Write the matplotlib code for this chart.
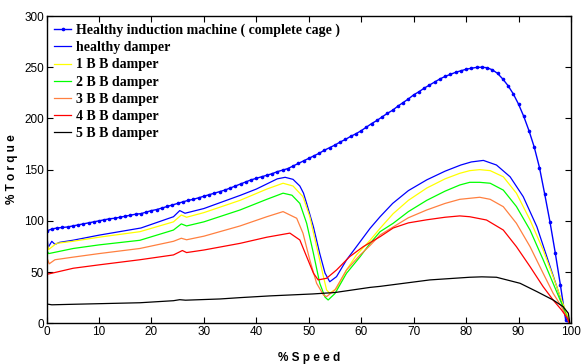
import numpy as np
import matplotlib
matplotlib.use('Agg')
import matplotlib.pyplot as plt

# healthy machine, one value per % speed (0..99)
healthy_speed = np.arange(0, 100)
healthy_torque = [90, 92, 93, 93.5, 94, 95, 96, 97, 98, 99,
                  100, 101, 102, 102.5, 103.5, 104.5, 105.5, 106.5, 107, 108.5,
                  110, 111, 112.5, 114, 115.5, 117, 118.5, 120, 121, 122.5,
                  124, 125.5, 127, 128.5, 130, 132, 134, 136, 138, 140,
                  141.5, 143, 144.5, 146, 148, 149.5, 151, 153.5, 156, 158.5,
                  161, 163.5, 166, 169, 171.5, 174, 177, 179.5, 182.5, 185,
                  188, 191.5, 195, 198, 201.5, 205, 208, 212, 215.5, 219,
                  223, 226, 229.5, 232.5, 235.5, 238.5, 241, 243, 245, 246.5,
                  248, 249, 249.8, 250, 249.5, 247.5, 244, 238.5, 232, 224,
                  214, 202, 188, 172, 152, 126, 99, 69, 37, 3]

hd_speed = [0, 0.3, 1, 1.6, 2.5, 5, 10, 18, 24.2, 25.4, 26.4, 30, 37, 40, 42.6, 44,
            45.5, 47, 48.3, 49, 49.6, 50.9, 52.1, 53.1, 54, 55.3, 57.2, 59.1, 61.7,
            63.6, 66, 69, 72.5, 76, 79, 81, 83.3, 85.8, 88.4, 90.9, 93.5, 95.4, 97.3,
            98.5, 99.2, 99.6]
hd_torque = [89, 74, 80, 77, 79, 81, 86, 93, 104, 110, 107.4, 112, 125, 131, 137.5, 141,
             142.5, 140.5, 134, 127, 117, 94, 68, 49, 40.5, 45.5, 61.8, 74.8, 92.7,
             104, 117, 129.5, 140, 148.5, 154.5, 157.5, 159, 154.5, 143, 123.6, 94.3, 65, 35.7,
             16.2, 3, 0]

bb1_speed = [0, 0.4, 1.9, 5, 10, 17.8, 24.2, 25.7, 26.7, 30, 36.9, 42, 45.1, 47,
             48.9, 50.2, 51.5, 52.8, 53.4, 54, 55.3, 57.2, 59.1, 61.7, 63.6, 66.1, 69,
             72.5, 76, 78.8, 80.7, 82.6, 84.6, 87.1, 89.6, 92.2, 94.7, 96.6, 98.2,
             99.3, 99.7]
bb1_torque = [81, 72, 78, 80, 84, 89.4, 99, 105.7, 103.5, 108, 120, 131, 136.7, 134,
              123.6, 104, 74.8, 45.5, 32.5, 29.3, 34, 52, 66.7, 81, 92.7, 107, 120,
              132, 141, 146.4, 149, 150, 149, 143, 127, 100.8, 71.6, 45.5, 22.7,
              8, 0]

bb2_speed = [0, 0.4, 5.1, 10, 17.8, 24.2, 25.7, 26.7, 30, 36.9, 42, 45.1, 46.8, 48.3,
             49.6, 50.9, 52.1, 53.1, 53.7, 55, 57.2, 59.8, 61.7, 63.6, 66.1, 69, 72.5,
             76, 78.8, 80.7, 82.6, 84.6, 87.1, 89.6, 92.2, 94.7, 96.6, 98.2, 99.3, 99.7]
bb2_torque = [71.6, 68, 73, 76.5, 81, 91, 97, 95, 99, 110.6, 121, 127, 125, 117,
              97.6, 68, 39, 25.5, 22.7, 29, 48.8, 65, 78, 89.4, 97.6, 109, 120,
              129, 135, 137.6, 137.6, 136.7, 130, 114, 91, 62, 39, 19.5, 6, 0]

bb3_speed = [0, 0.5, 1.6, 5, 10, 17.8, 24.2, 25.7, 26.7, 30, 36.9, 42, 45.1, 47.7,
             48.9, 50.2, 51.5, 52.8, 53.4, 55, 57.2, 59.8, 61.7, 63.6, 66.1, 69, 72.5,
             76, 78.8, 80.7, 82.6, 84.6, 87.1, 89.6, 92.2, 94.7, 96.6, 98.2, 99.3, 99.7]
bb3_torque = [65, 58, 62, 64.5, 68, 73, 80, 83, 81.5, 85, 95, 104, 109, 102.5,
              87.9, 61.8, 39, 27.6, 26, 32.5, 52, 66.7, 76, 86.2, 94, 103, 110.6,
              117, 121, 122, 123, 121, 113.8, 97.6, 74.8, 48.8, 29.3, 16.2, 5, 0]

bb4_speed = [0, 0.3, 5.1, 10, 17.8, 24.2, 25.9, 26.7, 30, 36.9, 42, 46.4, 48.3, 49.6,
             50.9, 51.8, 53.4, 55.3, 57.8, 60.4, 63.6, 66.1, 69, 72.5, 76, 78.8, 80.7,
             83.9, 87.1, 89.6, 92.2, 94.7, 96.6, 98.2, 99.3, 99.7]
bb4_torque = [52, 48, 53.7, 57, 62, 66.7, 71, 69, 71.5, 78, 84, 88, 81.3, 65,
              48.8, 42.3, 43.9, 52, 65, 74.8, 84.5, 93, 98, 101, 103.5, 104.8, 104,
              100.8, 91, 74.8, 55.3, 35.7, 22.7, 13, 5, 0]

bb5_speed = [0, 1, 5, 17.8, 24.2, 25.4, 26.5, 33.1, 36.9, 42.6, 50.8, 55, 61.7, 63.6,
             73.1, 80.7, 83, 85.8, 90.3, 93.5, 96.6, 98.5, 99.5, 99.8]
bb5_torque = [18.8, 18, 18.5, 20, 22, 23, 22.5, 23.7, 25, 26.7, 28.6, 30, 35, 36,
              42.3, 44.9, 45.3, 44.9, 39, 30.9, 22.7, 16.2, 9.8, 0]

labels = ['Healthy induction machine ( complete cage )', 'healthy damper',
          '1 B B damper', '2 B B damper', '3 B B damper', '4 B B damper',
          '5 B B damper']
x_ticks = [0, 10, 20, 30, 40, 50, 60, 70, 80, 90, 100]
y_ticks = [0, 50, 100, 150, 200, 250, 300]

plt.rcParams['font.family'] = ['Liberation Sans', 'DejaVu Sans']

fig = plt.figure(figsize=(5.82, 3.64), dpi=100)
ax = fig.add_axes([0.080, 0.112, 0.901, 0.844])

ax.plot(healthy_speed, healthy_torque, color='#0000ff', lw=1.0, marker='.',
        markersize=3.2, label=labels[0])
ax.plot(hd_speed, hd_torque, color='#0000ff', lw=0.9, label=labels[1])
ax.plot(bb1_speed, bb1_torque, color='#ffff00', lw=0.9, label=labels[2])
ax.plot(bb2_speed, bb2_torque, color='#00ff00', lw=0.9, label=labels[3])
ax.plot(bb3_speed, bb3_torque, color='#ff8040', lw=0.9, label=labels[4])
ax.plot(bb4_speed, bb4_torque, color='#ff0000', lw=0.9, label=labels[5])
ax.plot(bb5_speed, bb5_torque, color='#000000', lw=0.9, label=labels[6])

ax.set_xlim(0, 100)
ax.set_ylim(0, 300)
ax.set_xticks(x_ticks)
ax.set_yticks(y_ticks)
ax.tick_params(direction='in', top=True, right=True, length=4, width=0.8,
               labelsize=8.5, pad=2)
for s in ax.spines.values():
    s.set_linewidth(1.0)

ax.set_xlabel('% S p e e d', fontsize=8.5, fontweight='bold', labelpad=10)
ax.set_ylabel('% T o r q u e', fontsize=8.5, fontweight='bold', labelpad=4)

ax.legend(loc='upper left', frameon=False,
          prop={'family': 'Liberation Serif', 'weight': 'bold', 'size': 10},
          handlelength=1.2, handletextpad=0.4, labelspacing=0.3,
          borderaxespad=0.35, borderpad=0.2)

fig.savefig('out.png', dpi=100)
